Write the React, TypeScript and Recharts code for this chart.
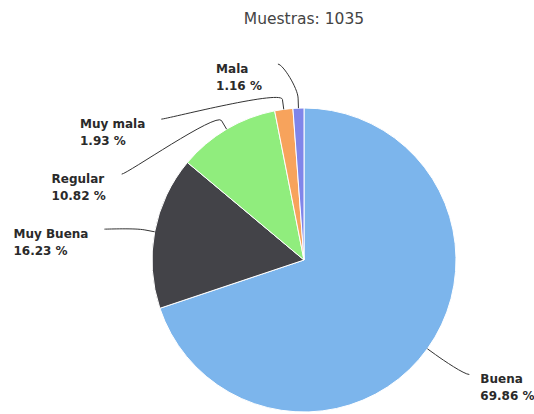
import { Cell, Pie, PieChart } from "recharts";

const categories = ["Buena", "Muy Buena", "Regular", "Muy mala", "Mala"];
const counts = [723, 168, 112, 20, 12];
const colors = ["#7cb5ec", "#434348", "#90ed7d", "#f7a35c", "#8085e9"];
const titlePrefix = "Muestras: ";

const W = 534;
const H = 414;
const CX = 304;
const CY = 260;
const RADIUS = 152;
const LABEL_R = 197; // circle the label anchors sit on
const SLOT = 55; // min vertical gap between stacked labels
const FONT = "'DejaVu Sans', Verdana, sans-serif";

const total = counts.reduce((a, b) => a + b, 0);
const data = categories.map((name, i) => ({ name, value: counts[i] }));
const pct = (i: number) => ((counts[i] / total) * 100).toFixed(2) + " %";

// rough take on the highcharts pie label placement: push labels apart per side
function layoutLabels() {
  let cum = 0;
  const items = counts.map((v, i) => {
    const mid = 90 - (360 * (cum + v / 2)) / total;
    cum += v;
    const rad = (mid * Math.PI) / 180;
    return { i, left: Math.cos(rad) < 0, y: CY - (LABEL_R - 1) * Math.sin(rad) };
  });
  for (const side of [true, false]) {
    const group = items.filter((d) => d.left === side).sort((a, b) => a.y - b.y);
    let prev = -Infinity;
    for (const d of group) {
      d.y = Math.max(d.y, prev + SLOT);
      prev = d.y;
    }
  }
  return items.map((d) => {
    const dy = Math.max(-LABEL_R, Math.min(LABEL_R, d.y - CY));
    const off = Math.sqrt(LABEL_R * LABEL_R - dy * dy);
    return { left: d.left, x: CX + (d.left ? -off : off), y: d.y };
  });
}

const labelPos = layoutLabels();

let ctx: CanvasRenderingContext2D | null = null;
function textWidth(s: string) {
  if (!ctx) ctx = document.createElement("canvas").getContext("2d");
  if (!ctx) return s.length * 7;
  ctx.font = `bold 12px ${FONT}`;
  return ctx.measureText(s).width;
}

const RAD = Math.PI / 180;

function renderLabel(p: any) {
  const { cx, cy, midAngle, outerRadius, index } = p;
  const pos = labelPos[index];
  const cos = Math.cos(-midAngle * RAD);
  const sin = Math.sin(-midAngle * RAD);
  const ex = cx + outerRadius * cos;
  const ey = cy + outerRadius * sin;
  const mx = cx + (outerRadius + 10) * cos;
  const my = cy + (outerRadius + 10) * sin;
  const sx = pos.x + (pos.left ? -5 : 5);
  const d = `M ${sx} ${pos.y} C ${pos.x} ${pos.y} ${2 * mx - ex} ${2 * my - ey} ${mx} ${my} L ${ex} ${ey}`;
  const lines = [categories[index], pct(index)];
  const w = Math.max(...lines.map(textWidth));
  const tx = pos.left ? pos.x - 21 - w : pos.x + 16;
  return (
    <g key={`lbl-${index}`}>
      <path d={d} fill="none" stroke="#333" strokeWidth={1} />
      <text x={tx} y={pos.y + 9} fontFamily={FONT} fontSize={12} fontWeight="bold" fill="#2a2a2a">
        <tspan x={tx}>{lines[0]}</tspan>
        <tspan x={tx} dy={17}>
          {lines[1]}
        </tspan>
      </text>
    </g>
  );
}

export default function App() {
  return (
    <div style={{ position: "absolute", left: 0, top: 0, width: W, height: H, background: "#fff" }}>
      <PieChart width={W} height={H} margin={{ top: 0, right: 0, bottom: 0, left: 0 }}>
        <Pie
          data={data}
          dataKey="value"
          nameKey="name"
          cx={CX}
          cy={CY}
          outerRadius={RADIUS}
          startAngle={90}
          endAngle={-270}
          stroke="#fff"
          strokeWidth={1}
          label={renderLabel}
          labelLine={false}
          isAnimationActive={false}
        >
          {data.map((d, i) => (
            <Cell key={d.name} fill={colors[i]} />
          ))}
        </Pie>
      </PieChart>
      <svg width={W} height={40} style={{ position: "absolute", left: 0, top: 0, pointerEvents: "none" }}>
        <text x={CX} y={24} textAnchor="middle" fontFamily={FONT} fontSize={15.5} fill="#444">
          {titlePrefix + total}
        </text>
      </svg>
    </div>
  );
}
